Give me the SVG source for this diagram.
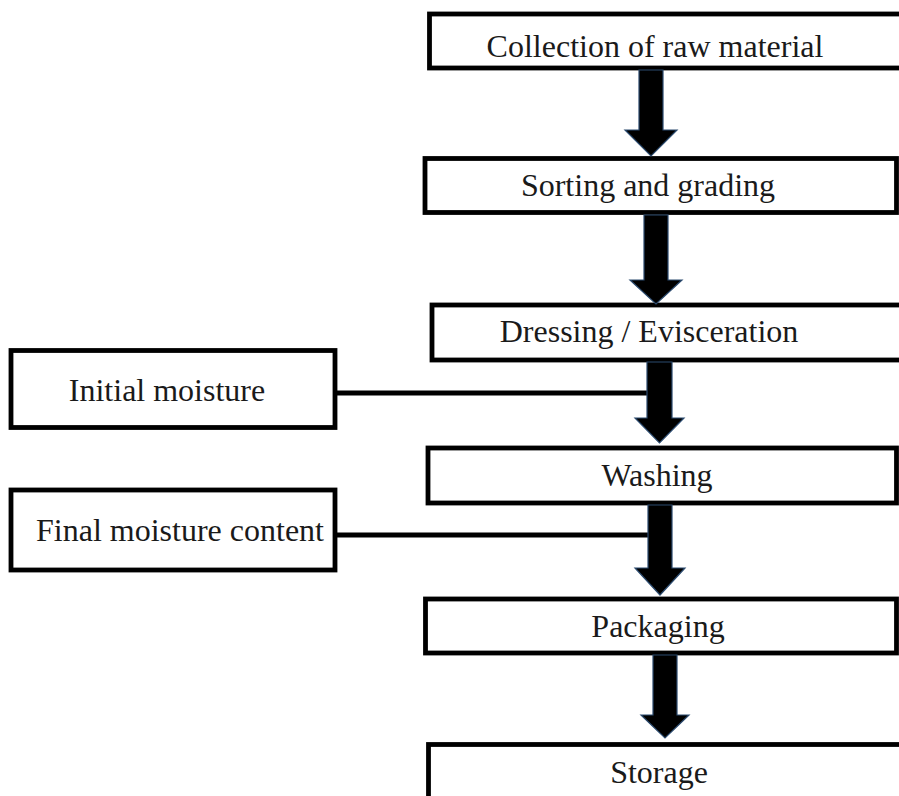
<svg xmlns="http://www.w3.org/2000/svg" width="899" height="796" viewBox="0 0 899 796">
<style>
.box{fill:#fff;stroke:#000;stroke-width:4.8}
.t{font-family:"Liberation Serif","Times New Roman",serif;font-size:32px;fill:#1a1a1a;text-anchor:middle}
.arr{fill:#000;stroke:#2b4a6e;stroke-width:1.2;stroke-linejoin:miter}
.ln{stroke:#000;stroke-width:5;fill:none}
</style>
<rect width="899" height="796" fill="#fff"/>
<g id="n1"><rect class="box" x="429.5" y="14" width="500" height="54"/><text class="t" x="655" y="57">Collection of raw material</text></g>
<g id="n2"><rect class="box" x="425" y="158.5" width="471.5" height="54"/><text class="t" x="648" y="196">Sorting and grading</text></g>
<g id="n3"><rect class="box" x="432" y="305" width="500" height="55"/><text class="t" x="649" y="342">Dressing / Evisceration</text></g>
<g id="n4"><rect class="box" x="428" y="448" width="468.5" height="55"/><text class="t" x="657" y="486">Washing</text></g>
<g id="n5"><rect class="box" x="425.5" y="599" width="471" height="54"/><text class="t" x="658" y="637">Packaging</text></g>
<g id="n6"><rect class="box" x="428.5" y="744.5" width="500" height="100"/><text class="t" x="659" y="783">Storage</text></g>
<g id="n7"><rect class="box" x="11" y="350.5" width="324" height="77"/><text class="t" x="167" y="401">Initial moisture</text></g>
<g id="n8"><rect class="box" x="11" y="490" width="324" height="80"/><text class="t" x="180" y="541">Final moisture content</text></g>
<g id="connectors">
<line class="ln" x1="337" y1="393" x2="647" y2="393"/>
<line class="ln" x1="337" y1="535" x2="648" y2="535"/>
<polygon class="arr" points="639,70 663,70 663,130 677,130 651,156 625,130 639,130"/>
<polygon class="arr" points="644,215 668,215 668,280 682,280 656,304 630,280 644,280"/>
<polygon class="arr" points="647,362 672,362 672,418 684,418 659.5,443 635,418 647,418"/>
<polygon class="arr" points="648,505 672,505 672,568 685,568 660,595 635,568 648,568"/>
<polygon class="arr" points="653,655 677,655 677,715 689,715 665,738 641,715 653,715"/>
</g>
</svg>
